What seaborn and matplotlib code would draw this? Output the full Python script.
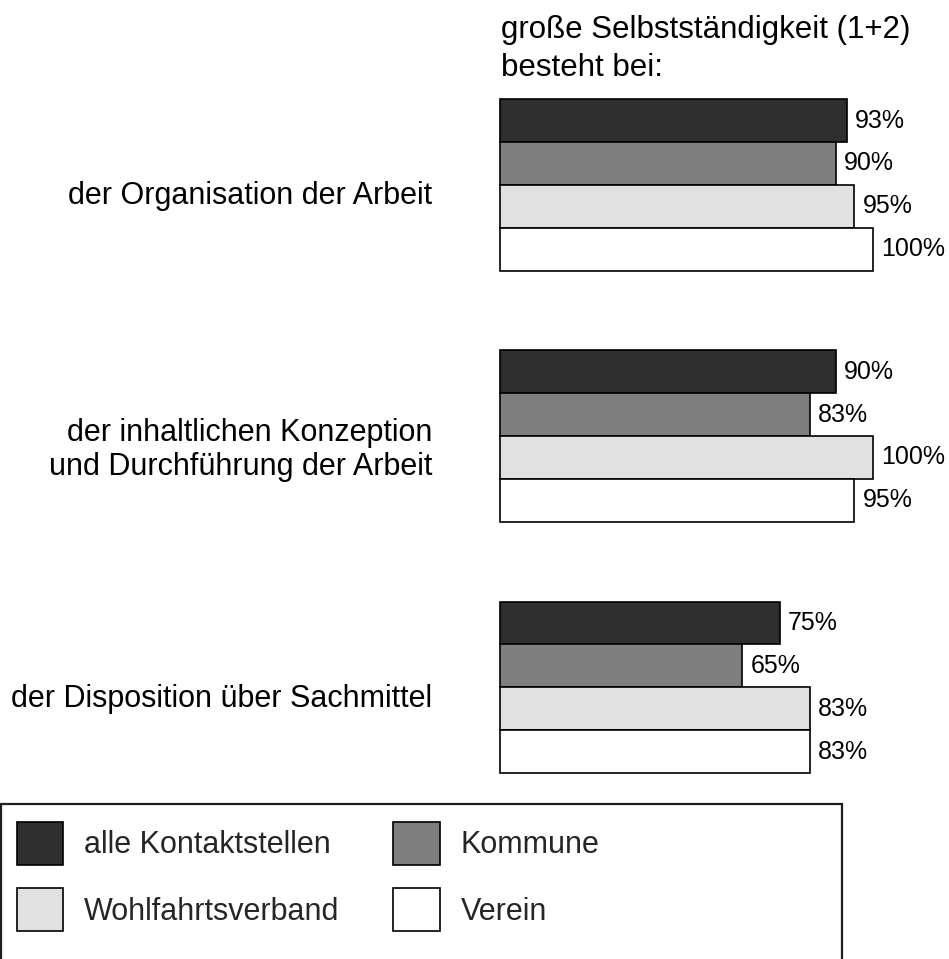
import matplotlib
matplotlib.use("Agg")
import matplotlib.pyplot as plt
import matplotlib.transforms as mtransforms
from matplotlib.patches import Patch, Rectangle
import pandas as pd
import seaborn as sns

# Survey results: share of contact points with high autonomy (answers 1+2)
bereiche = [
    "der Organisation der Arbeit",
    "der inhaltlichen Konzeption\nund Durchführung der Arbeit",
    "der Disposition über Sachmittel",
]
traeger = ["alle Kontaktstellen", "Kommune", "Wohlfahrtsverband", "Verein"]
alle_kontaktstellen = [93, 90, 75]
kommune = [90, 83, 65]
wohlfahrtsverband = [95, 100, 83]
verein = [100, 95, 83]
farben = ["#2f2f2f", "#7f7f7f", "#e1e1e1", "#ffffff"]
titel = "große Selbstständigkeit (1+2)\nbesteht bei:"

werte = [alle_kontaktstellen, kommune, wohlfahrtsverband, verein]
df = pd.DataFrame(
    [(b, t, w[i]) for t, w in zip(traeger, werte) for i, b in enumerate(bereiche)],
    columns=["Bereich", "Träger", "Anteil"],
)

sns.set_theme(style="white")
plt.rcParams["font.family"] = ["Liberation Sans", "DejaVu Sans"]

W, H = 949, 959
fig = plt.figure(figsize=(W / 100, H / 100), dpi=100)

# axes: value 0 at x=500 px, 3.73 px per percent; groups 251 px apart
ax = fig.add_axes([500 / W, 1 - 790 / H, (W - 500) / W, 700 / H])
sns.barplot(
    data=df, y="Bereich", x="Anteil", hue="Träger",
    order=bereiche, hue_order=traeger,
    palette=dict(zip(traeger, farben)),
    orient="h", width=0.682, gap=0, errorbar=None,
    edgecolor="black", linewidth=1.2, legend=False, ax=ax,
)
ax.set_xlim(0, (W - 500) / 3.73)
ax.set_ylim(2.409, -0.3776)

for cont in ax.containers:
    for bar in cont:
        bar.set_clip_on(False)
    ax.bar_label(cont, fmt="{:.0f}%", padding=6, fontsize=18, color="black")

ax.set_xlabel("")
ax.set_ylabel("")
ax.set_xticks([])
sns.despine(ax=ax, left=True, bottom=True)
ax.tick_params(axis="y", length=0, pad=49, labelsize=22, labelcolor="black")
shift = mtransforms.ScaledTranslation(0, -8 / 100, fig.dpi_scale_trans)
for lab in ax.get_yticklabels():
    lab.set_transform(lab.get_transform() + shift)

fig.text(501 / W, 1 - 76 / H, titel, fontsize=22.5, ha="left", va="baseline",
         color="black", linespacing=1.34)

# legend with its own frame
fig.add_artist(Rectangle((1 / W, -0.01), 841 / W, (H - 804) / H + 0.01,
                         transform=fig.transFigure, fill=False,
                         edgecolor="#1e1e1e", linewidth=1.6))
handles = [Patch(facecolor=c, edgecolor="black", linewidth=1.2, label=t)
           for t, c in zip(traeger, farben)]
order = [0, 2, 1, 3]
fig.legend(
    [handles[i] for i in order], [traeger[i] for i in order],
    ncol=2, loc="upper left", bbox_to_anchor=(16.7 / W, 1 - 821.7 / H),
    frameon=False, borderpad=0, borderaxespad=0, fontsize=22,
    handlelength=1.51, handleheight=1.79, handletextpad=0.69,
    labelspacing=0.77, columnspacing=1.77,
)

fig.savefig("out.png", dpi=100, facecolor="white")
